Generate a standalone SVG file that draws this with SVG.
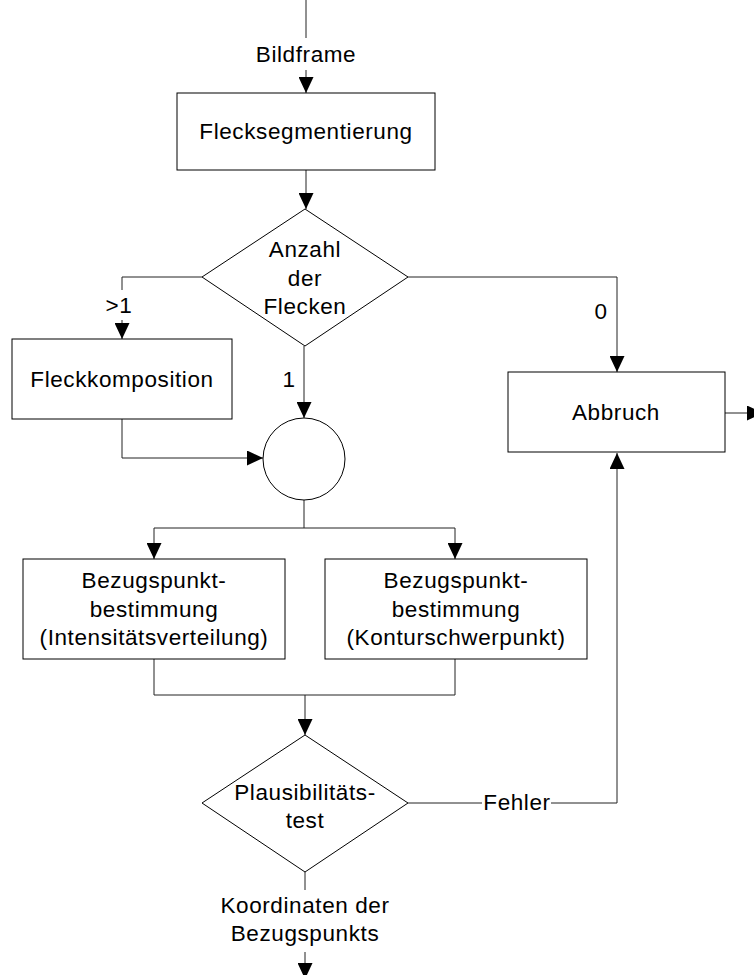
<svg xmlns="http://www.w3.org/2000/svg" width="754" height="975" viewBox="0 0 754 975">
  <style>
    .shape { fill: #fff; stroke: #000; stroke-width: 1; }
    .wire { fill: none; stroke: #222; stroke-width: 1; }
    .lbl { font-family: "Liberation Sans", Arial, sans-serif; font-size: 22.5px; letter-spacing: 0.6px; fill: #000; text-anchor: middle; }
  </style>
  <defs>
    <marker id="arrow" viewBox="0 0 16 15" markerWidth="16" markerHeight="15" refX="16" refY="7.5" orient="auto" markerUnits="userSpaceOnUse">
      <path d="M0,0 L16,7.5 L0,15 Z" fill="#000"/>
    </marker>
  </defs>
  <rect width="754" height="975" fill="#fff"/>

  <!-- connectors -->
  <g id="connectors" class="wire">
    <!-- input -->
    <line x1="306" y1="0" x2="306" y2="38"/>
    <line x1="306" y1="70" x2="306" y2="93" marker-end="url(#arrow)"/>
    <!-- segmentation to decision -->
    <line x1="306" y1="170" x2="306" y2="209" marker-end="url(#arrow)"/>
    <!-- >1 branch -->
    <polyline points="202,277 122,277 122,290"/>
    <line x1="122" y1="320" x2="122" y2="339" marker-end="url(#arrow)"/>
    <!-- 1 branch -->
    <line x1="304" y1="346" x2="304" y2="418" marker-end="url(#arrow)"/>
    <!-- 0 branch -->
    <polyline points="408,277 617,277 617,372" marker-end="url(#arrow)"/>
    <!-- composition into junction -->
    <polyline points="122,419 122,458 263,458" marker-end="url(#arrow)"/>
    <!-- junction split -->
    <line x1="304" y1="500" x2="304" y2="528"/>
    <line x1="154" y1="528" x2="455" y2="528"/>
    <line x1="154" y1="528" x2="154" y2="559" marker-end="url(#arrow)"/>
    <line x1="455" y1="528" x2="455" y2="559" marker-end="url(#arrow)"/>
    <!-- merge -->
    <polyline points="154,659 154,695 455,695 455,659"/>
    <line x1="305" y1="695" x2="305" y2="735" marker-end="url(#arrow)"/>
    <!-- error path -->
    <line x1="408" y1="803" x2="482" y2="803"/>
    <polyline points="551,803 617,803 617,453" marker-end="url(#arrow)"/>
    <!-- abort output -->
    <line x1="725" y1="413" x2="763" y2="413" marker-end="url(#arrow)"/>
    <!-- result output -->
    <line x1="305" y1="872" x2="305" y2="890"/>
    <line x1="305" y1="952" x2="305" y2="979" marker-end="url(#arrow)"/>
  </g>

  <!-- connector labels -->
  <g id="labels">
    <text class="lbl" x="306" y="62">Bildframe</text>
    <text class="lbl" x="119" y="313">&gt;1</text>
    <text class="lbl" x="289" y="387">1</text>
    <text class="lbl" x="601" y="319">0</text>
    <text class="lbl" x="517" y="810">Fehler</text>
    <text class="lbl" x="305" y="913">Koordinaten der</text>
    <text class="lbl" x="305" y="941">Bezugspunkts</text>
  </g>

  <g id="segmentation">
    <rect class="shape" x="177" y="93" width="258" height="77"/>
    <text class="lbl" x="306" y="139">Flecksegmentierung</text>
  </g>

  <g id="count-decision">
    <polygon class="shape" points="305,209 408,277 305,346 202,277"/>
    <text class="lbl" x="305" y="257">Anzahl</text>
    <text class="lbl" x="305" y="286">der</text>
    <text class="lbl" x="305" y="314">Flecken</text>
  </g>

  <g id="composition">
    <rect class="shape" x="12" y="339" width="220" height="80"/>
    <text class="lbl" x="122" y="387">Fleckkomposition</text>
  </g>

  <g id="junction">
    <circle class="shape" cx="304" cy="459" r="41"/>
  </g>

  <g id="abort">
    <rect class="shape" x="508" y="372" width="217" height="80"/>
    <text class="lbl" x="616" y="420">Abbruch</text>
  </g>

  <g id="ref-intensity">
    <rect class="shape" x="23" y="559" width="262" height="100"/>
    <text class="lbl" x="154" y="588">Bezugspunkt-</text>
    <text class="lbl" x="154" y="617">bestimmung</text>
    <text class="lbl" x="154" y="645">(Intensitätsverteilung)</text>
  </g>

  <g id="ref-contour">
    <rect class="shape" x="325" y="559" width="262" height="100"/>
    <text class="lbl" x="456" y="588">Bezugspunkt-</text>
    <text class="lbl" x="456" y="617">bestimmung</text>
    <text class="lbl" x="456" y="645">(Konturschwerpunkt)</text>
  </g>

  <g id="plausibility">
    <polygon class="shape" points="305,735 408,803 305,872 202,803"/>
    <text class="lbl" x="305" y="800">Plausibilitäts-</text>
    <text class="lbl" x="305" y="828">test</text>
  </g>
</svg>
